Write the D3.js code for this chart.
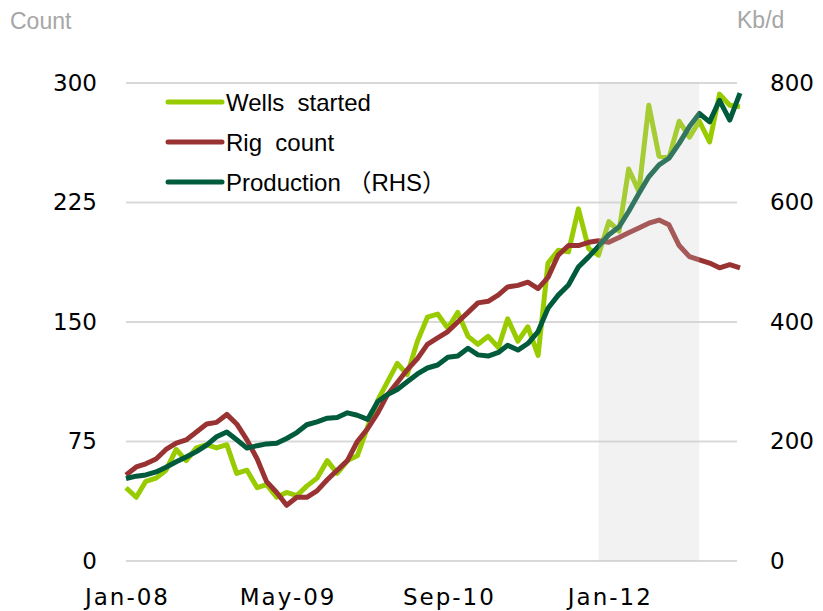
<!DOCTYPE html>
<html>
<head>
<meta charset="utf-8">
<script src="https://cdn.jsdelivr.net/npm/d3@7"></script>
<style>
  body { margin: 0; background: #fff; }
  svg { display: block; }
  .tick text { font-family: "DejaVu Sans", sans-serif; font-size: 23px; fill: #000; }
  .xaxis .tick text { letter-spacing: 2px; }
  .legend text { font-family: "Liberation Sans", Arial, "Noto Sans CJK KR", sans-serif; font-size: 24px; white-space: pre; }
  .unit { font-family: "Liberation Sans", Arial, sans-serif; font-size: 23px; fill: #a6a6a6; }
</style>
</head>
<body>
<div id="chart"></div>
<script>
// monthly, Jan-08 .. Feb-13
const months = d3.timeMonth.range(new Date(2008, 0, 1), new Date(2013, 2, 1));

const wellsStarted = [
  46, 40, 50, 52, 57, 70, 63, 71, 73, 71, 73, 55,
  57, 46, 48, 40, 43, 41, 47, 52, 63, 55, 63, 66,
  84, 101, 112, 124, 117, 138, 153, 155, 146, 156, 141, 136,
  141, 134, 152, 138, 147, 129, 187, 195, 194, 221, 196, 192,
  213, 207, 246, 232, 286, 254, 253, 276, 266, 276, 263, 293,
  286, 285
];

const rigCount = [
  54, 59, 61, 64, 70, 74, 76, 81, 86, 87, 92, 86,
  76, 64, 50, 43, 35, 40, 40, 44, 51, 57, 63, 75,
  83, 93, 104, 112, 120, 127, 136, 140, 144, 150, 156, 162,
  163, 167, 172, 173, 175, 171, 178, 192, 198, 198, 200, 201,
  200, 203, 206, 209, 212, 214, 211, 198, 191, 189, 187, 184,
  186, 184
];

// Kb/d, right axis
const production = [
  138, 142, 144, 149, 157, 166, 174, 183, 194, 208, 216, 203,
  189, 193, 196, 197, 205, 215, 228, 233, 239, 240, 248, 244,
  237, 267, 278, 287, 300, 313, 323, 328, 341, 343, 356, 345,
  343, 349, 361, 353, 364, 384, 423, 445, 462, 492, 509, 527,
  546, 559, 585, 615, 643, 663, 674, 699, 727, 749, 735, 771,
  738, 783
];

const leftTicks = [0, 75, 150, 225, 300];
const rightTicks = [0, 200, 400, 600, 800];
const dateTicks = [new Date(2008, 0, 1), new Date(2009, 4, 1), new Date(2010, 8, 1), new Date(2012, 0, 1)];
const shadeRange = [new Date(2011, 11, 1), new Date(2012, 9, 1)];

const seriesNames = ["Wells  started", "Rig  count", "Production \uFF08RHS\uFF09"];
const seriesColors = ["#99cc00", "#993333", "#005a3c"];

class WellsChart {
  constructor(selector) {
    this.selector = selector
    this.width = 823
    this.height = 611
  }

  draw() {
    this.svg = d3.select(this.selector)
      .append("svg")
      .attr("width", this.width)
      .attr("height", this.height);

    const x = d3.scaleTime()
      .domain([months[0], months[months.length - 1]])
      .range([126, 740]);
    const yL = d3.scaleLinear().domain([0, 300]).range([561, 83]);
    const yR = d3.scaleLinear().domain([0, 800]).range([561, 83]);

    // gridlines
    this.svg.append("g")
      .selectAll("line")
      .data(leftTicks)
      .enter()
      .append("line")
        .attr("x1", 126)
        .attr("x2", 737)
        .attr("y1", d => yL(d))
        .attr("y2", d => yL(d))
        .attr("stroke", "#d9d9d9")
        .attr("stroke-width", 2);

    // axes, text only
    this.svg.append("g")
      .attr("transform", "translate(126,0)")
      .call(d3.axisLeft(yL).tickValues(leftTicks).tickSize(0).tickPadding(29))
      .call(g => g.select(".domain").remove());

    this.svg.append("g")
      .attr("transform", "translate(737,0)")
      .call(d3.axisRight(yR).tickValues(rightTicks).tickSize(0).tickPadding(33))
      .call(g => g.select(".domain").remove());

    this.svg.append("g")
      .attr("class", "xaxis")
      .attr("transform", "translate(0,561)")
      .call(d3.axisBottom(x).tickValues(dateTicks).tickFormat(d3.timeFormat("%b-%y")).tickSize(0).tickPadding(28))
      .call(g => g.select(".domain").remove())
      .call(g => g.selectAll(".tick text").attr("dx", 1));

    // lines
    const lineL = d3.line().x((d, i) => x(months[i])).y(d => yL(d));
    const lineR = d3.line().x((d, i) => x(months[i])).y(d => yR(d));
    const paths = [[wellsStarted, lineL], [rigCount, lineL], [production, lineR]];
    paths.forEach(([data, gen], k) => {
      this.svg.append("path")
        .datum(data)
        .attr("d", gen)
        .attr("fill", "none")
        .attr("stroke", seriesColors[k])
        .attr("stroke-width", 5)
        .attr("stroke-linejoin", "round");
    });

    // shaded period sits on top of the lines
    this.svg.append("rect")
      .attr("x", x(shadeRange[0]))
      .attr("y", 82)
      .attr("width", x(shadeRange[1]) - x(shadeRange[0]))
      .attr("height", 479)
      .attr("fill", "rgb(204,204,204)")
      .attr("fill-opacity", 0.25);

    this.createLegend();

    this.svg.append("text").attr("class", "unit").attr("x", 10).attr("y", 29).text("Count");
    this.svg.append("text").attr("class", "unit").attr("x", 737).attr("y", 28).text("Kb/d");
  }

  createLegend() {
    const lg = this.svg.append("g").attr("class", "legend");
    seriesNames.forEach((name, k) => {
      const cy = 102 + k * 40;
      lg.append("line")
        .attr("x1", 168).attr("x2", 222)
        .attr("y1", cy).attr("y2", cy)
        .attr("stroke", seriesColors[k])
        .attr("stroke-width", 5)
        .attr("stroke-linecap", "round");
      lg.append("text")
        .attr("x", 226)
        .attr("y", cy + 9)
        .attr("xml:space", "preserve")
        .text(name);
    });
  }
}

new WellsChart("#chart").draw();
</script>
</body>
</html>
